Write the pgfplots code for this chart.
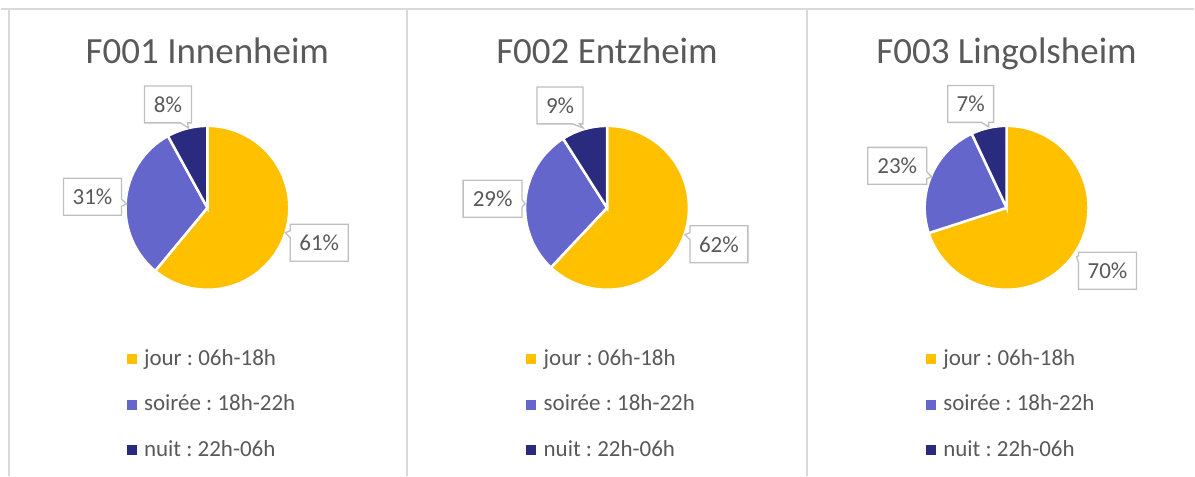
\documentclass[border=0pt]{standalone}
\usepackage{pgfplots}
\pgfplotsset{compat=1.18}
\usepackage{fontspec}
\setmainfont{Carlito}
\frenchspacing
\usetikzlibrary{shapes.callouts}
\definecolor{jour}{HTML}{FFC000}
\definecolor{soiree}{HTML}{6466CC}
\definecolor{nuit}{HTML}{2A2A7E}
\definecolor{txt}{HTML}{595959}
\definecolor{boxg}{HTML}{BFBFBF}
\definecolor{frameg}{HTML}{D9D9D9}
\pgfplotsset{
  panel/.style={width=1195pt,height=476pt,scale only axis,
    xmin=0,xmax=1195,ymin=0,ymax=476,y dir=reverse,hide axis,clip=false,
    legend image code/.code={\fill[##1] (0pt,-4.5pt) rectangle (9pt,4.5pt);},
    legend cell align=left,
    legend style={draw=none,fill=none,inner sep=0pt,row sep=23.5pt,column sep=8pt,
      font=\fontsize{23}{28}\selectfont,text=txt,
      nodes={inner sep=0pt,text height=17pt,text depth=5pt},
      at={(axis cs:#1,405)},anchor=west},
  },
}
\tikzset{lbl/.style={rectangle callout,draw=boxg,line width=1.3pt,fill=white,text=txt,
  font=\fontsize{23}{28}\selectfont,inner xsep=0pt,inner ysep=0pt,minimum height=37pt,
  callout pointer width=7pt}}
% cx, cy, jour, soiree, nuit
\newcommand\pie[5]{%
  \fill[jour,draw=white,line width=2.5pt] (axis cs:#1,#2) -- ++(90:82pt)
    arc[start angle=90,end angle={90-#3*3.6},radius=82pt] -- cycle;
  \fill[soiree,draw=white,line width=2.5pt] (axis cs:#1,#2) -- ++({90-#3*3.6}:82pt)
    arc[start angle={90-#3*3.6},end angle={90-(#3+#4)*3.6},radius=82pt] -- cycle;
  \fill[nuit,draw=white,line width=2.5pt] (axis cs:#1,#2) -- ++({90-(#3+#4)*3.6}:82pt)
    arc[start angle={90-(#3+#4)*3.6},end angle={90-(#3+#4+#5)*3.6},radius=82pt] -- cycle;
}
\newcommand\leg{%
  \addlegendimage{jour}\addlegendentry{jour : 06h-18h}
  \addlegendimage{soiree}\addlegendentry{soirée : 18h-22h}
  \addlegendimage{nuit}\addlegendentry{nuit : 22h-06h}
}
\begin{document}
\begin{tikzpicture}
% ---------- panel 1
\begin{axis}[panel=126]
  \path (axis cs:0,0) rectangle (axis cs:1195,476);
  \draw[frameg,line width=1.2pt] (axis cs:0,9) -- (axis cs:1195,9);
  \draw[frameg,line width=1.2pt] (axis cs:8.5,9) -- (axis cs:8.5,476);
  \draw[frameg,line width=2.5pt] (axis cs:407,9) -- (axis cs:407,476);
  \draw[frameg,line width=2.5pt] (axis cs:807,9) -- (axis cs:807,476);
  \node[anchor=base,text=txt,font=\fontsize{37}{42}\selectfont] at (axis cs:207,64) {F001 Innenheim};
  \pie{207}{208}{61}{31}{8}
  \node[lbl,minimum width=47pt,callout absolute pointer={(axis cs:188,128)}] at (axis cs:167.5,104.5) {8\%};
  \node[lbl,minimum width=58pt,callout absolute pointer={(axis cs:126,204)}] at (axis cs:92,197) {31\%};
  \node[lbl,minimum width=58pt,callout absolute pointer={(axis cs:285,233)}] at (axis cs:319,243) {61\%};
  \leg
\end{axis}
% ---------- panel 2
\begin{axis}[panel=526]
  \node[anchor=base,text=txt,font=\fontsize{37}{42}\selectfont] at (axis cs:607,64) {F002 Entzheim};
  \pie{607}{208}{62}{29}{9}
  \node[lbl,minimum width=46pt,callout absolute pointer={(axis cs:583,128)}] at (axis cs:560,105.5) {9\%};
  \node[lbl,minimum width=59pt,callout absolute pointer={(axis cs:525,204)}] at (axis cs:492.5,199) {29\%};
  \node[lbl,minimum width=58pt,callout absolute pointer={(axis cs:685,235)}] at (axis cs:719,244.5) {62\%};
  \leg
\end{axis}
% ---------- panel 3
\begin{axis}[panel=926]
  \node[anchor=base,text=txt,font=\fontsize{37}{42}\selectfont] at (axis cs:1007,64) {F003 Lingolsheim};
  \pie{1007}{208}{70}{23}{7}
  \node[lbl,minimum width=46pt,callout absolute pointer={(axis cs:989,127)}] at (axis cs:971,104) {7\%};
  \node[lbl,minimum width=59pt,callout absolute pointer={(axis cs:932,177)}] at (axis cs:897.5,166) {23\%};
  \node[lbl,minimum width=58pt,callout absolute pointer={(axis cs:1077,257)}] at (axis cs:1108,271) {70\%};
  \leg
\end{axis}
\end{tikzpicture}
\end{document}
